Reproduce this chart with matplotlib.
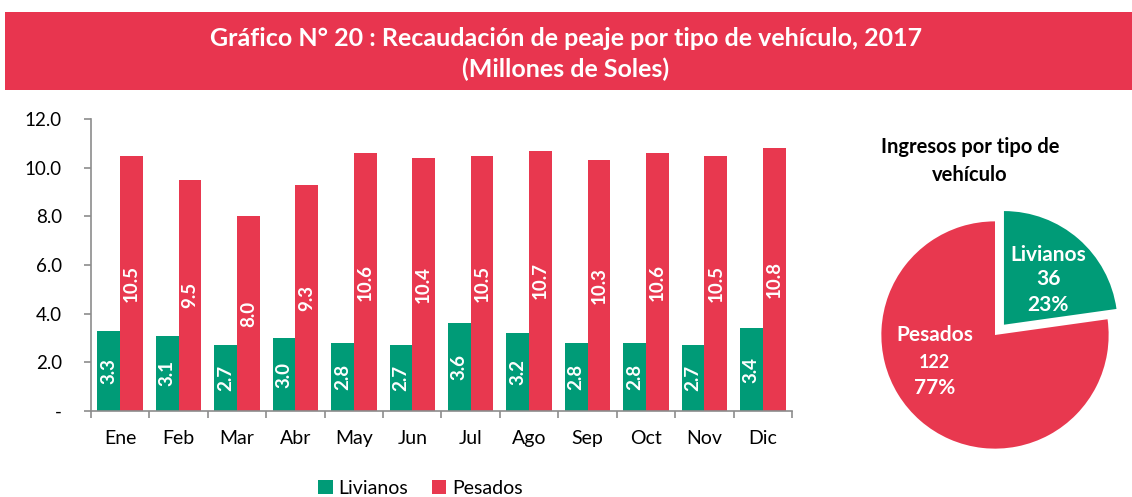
import matplotlib
matplotlib.use("Agg")
import matplotlib.pyplot as plt
from matplotlib.patches import Rectangle
import numpy as np

plt.rcParams['font.family'] = ['Lato', 'DejaVu Sans']

months = ["Ene", "Feb", "Mar", "Abr", "May", "Jun", "Jul", "Ago", "Sep", "Oct", "Nov", "Dic"]
livianos = [3.3, 3.1, 2.7, 3.0, 2.8, 2.7, 3.6, 3.2, 2.8, 2.8, 2.7, 3.4]
pesados = [10.5, 9.5, 8.0, 9.3, 10.6, 10.4, 10.5, 10.7, 10.3, 10.6, 10.5, 10.8]
yticks = [0, 2, 4, 6, 8, 10, 12]
ytick_labels = ["-", "2.0", "4.0", "6.0", "8.0", "10.0", "12.0"]
pie_labels = ["Livianos", "Pesados"]
pie_values = [36, 122]
pie_pct = ["23%", "77%"]

GREEN = "#009B77"
RED = "#E8384F"

fig = plt.figure(figsize=(11.32, 4.97), dpi=100)

# Title band
fig.patches.append(Rectangle((0.004, 1 - 90/497), 0.996, (90-12)/497, transform=fig.transFigure,
                             facecolor="#E8354F", edgecolor="none", zorder=0))
fig.text(0.5, 1 - 38/497, "Gráfico N° 20 : Recaudación de peaje por tipo de vehículo, 2017",
         ha="center", va="center", color="white", fontsize=18, fontweight="bold")
fig.text(0.5, 1 - 69/497, "(Millones de Soles)", ha="center", va="center",
         color="white", fontsize=18, fontweight="bold")

# Bar chart
ax = fig.add_axes([91/1132, 1 - 411/497, (792 - 91)/1132, (411 - 119)/497])
x = np.arange(len(months))
w = 0.39
b1 = ax.bar(x - w/2, livianos, w, color=GREEN, label="Livianos")
b2 = ax.bar(x + w/2, pesados, w, color=RED, label="Pesados")
for rect, v in zip(b1, livianos):
    ax.text(rect.get_x() + rect.get_width()/2, v/2, f"{v:.1f}", rotation=90,
            ha="center", va="center", color="white", fontsize=13.5, fontweight="bold")
for rect, v in zip(b2, pesados):
    ax.text(rect.get_x() + rect.get_width()/2, v/2, f"{v:.1f}", rotation=90,
            ha="center", va="center", color="white", fontsize=13.5, fontweight="bold")

ax.set_xlim(-0.5, len(months) - 0.5)
ax.set_ylim(0, 12)
ax.set_yticks(yticks)
ax.set_yticklabels(ytick_labels, fontsize=13.5)
ax.set_xticks(x)
ax.set_xticklabels(months, fontsize=14)
ax.set_xticks(np.arange(len(months) + 1) - 0.5, minor=True)
ax.tick_params(axis="x", which="major", length=0, pad=14)
ax.tick_params(axis="x", which="minor", length=5, color="#8c8c8c", width=1.2)
ax.tick_params(axis="y", length=5, color="#8c8c8c", width=1.2, pad=16)
for s in ["top", "right"]:
    ax.spines[s].set_visible(False)
for s in ["left", "bottom"]:
    ax.spines[s].set_color("#8c8c8c")
    ax.spines[s].set_linewidth(1.2)

ax.legend(loc="center", bbox_to_anchor=(0.47, -0.265), ncol=2, frameon=False,
          fontsize=14, handlelength=0.75, handleheight=0.75, handletextpad=0.3,
          columnspacing=1.2, borderaxespad=0, borderpad=0)

# Pie
pax = fig.add_axes([(995 - 125)/1132, 1 - (335 + 125)/497, 250/1132, 250/497])
wedges, _ = pax.pie(pie_values, colors=[GREEN, RED], startangle=90, counterclock=False,
                    explode=[0.12, 0], radius=1.0)
pax.set_xlim(-1.1, 1.1)
pax.set_ylim(-1.1, 1.1)
pax.set_aspect("equal")
lab_kw = dict(ha="center", va="center", color="white", fontweight="bold")
pax.text(0.47, 0.70, pie_labels[0], fontsize=15, **lab_kw)
pax.text(0.47, 0.49, str(pie_values[0]), fontsize=15, **lab_kw)
pax.text(0.47, 0.26, pie_pct[0], fontsize=15, **lab_kw)
pax.text(-0.53, 0.0, pie_labels[1], fontsize=15, **lab_kw)
pax.text(-0.53, -0.24, str(pie_values[1]), fontsize=13, **lab_kw)
pax.text(-0.53, -0.47, pie_pct[1], fontsize=15, **lab_kw)
fig.text(970/1132, 1 - 161/497, "Ingresos por tipo de\nvehículo", ha="center", va="center",
         fontsize=14.5, fontweight="bold", color="black", linespacing=1.45)

fig.savefig("out.png", dpi=100)
